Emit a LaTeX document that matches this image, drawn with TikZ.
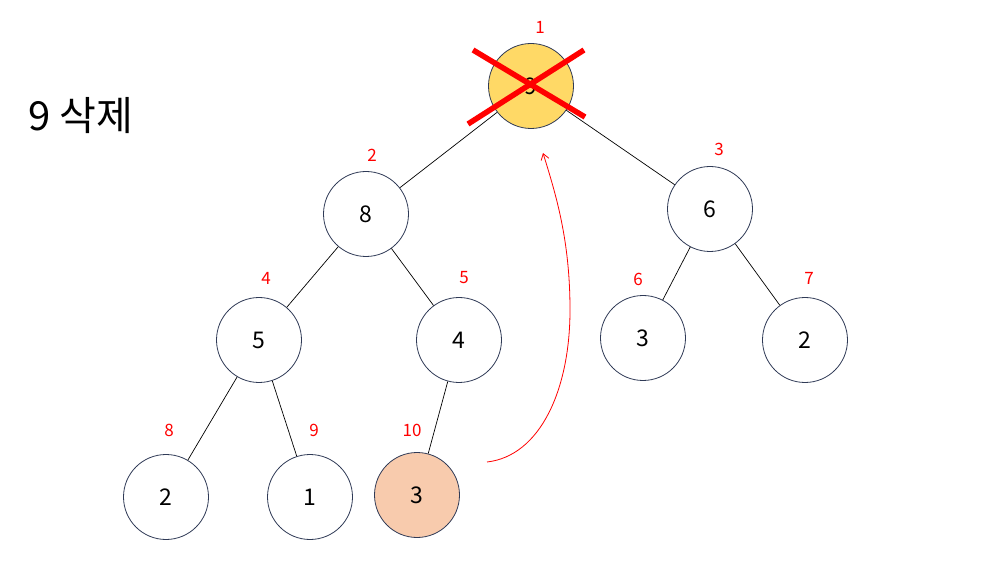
\documentclass[tikz,border=0pt]{standalone}
\usepackage{fontspec}
\setmainfont{Noto Sans CJK KR}
\usetikzlibrary{arrows.meta}
\definecolor{rim}{RGB}{47,58,86}
\definecolor{gold}{RGB}{255,217,102}
\definecolor{peach}{RGB}{248,203,173}
\definecolor{lred}{RGB}{255,0,0}
\tikzset{
  hnode/.style={circle,draw=rim,line width=0.8pt,fill=white,minimum size=85pt,inner sep=0pt,font=\fontsize{23}{26}\selectfont},
  idx/.style={text=lred,font=\fontsize{17}{20}\selectfont,inner sep=0pt},
  edge/.style={draw=black,line width=0.7pt}
}
\begin{document}
\begin{tikzpicture}[x=1pt,y=-1pt]
\useasboundingbox (0,0) rectangle (983,577);
% nodes
\node[hnode,fill=gold] (r) at (531,86) {9};
\node[hnode] (n8) at (366,214) {8};
\node[hnode] (n6) at (710,209) {6};
\node[hnode] (n5) at (259,340) {5};
\node[hnode] (n4) at (459,340) {4};
\node[hnode] (n3a) at (643,338) {3};
\node[hnode] (n2a) at (805,340) {2};
\node[hnode] (n2b) at (166,497) {2};
\node[hnode] (n1) at (310,497) {1};
\node[hnode,fill=peach] (n3b) at (417,495) {3};
% edges
\draw[edge] (r) -- (n8);
\draw[edge] (r) -- (n6);
\draw[edge] (n8) -- (n5);
\draw[edge] (n8) -- (n4);
\draw[edge] (n6) -- (n3a);
\draw[edge] (n6) -- (n2a);
\draw[edge] (n5) -- (n2b);
\draw[edge] (n5) -- (n1);
\draw[edge] (n4) -- (n3b);
% index labels
\node[idx] (i1) at (540,27) {1};
\node[idx] (i2) at (372,155) {2};
\node[idx] (i3) at (719,149) {3};
\node[idx] (i4) at (266,278) {4};
\node[idx] (i5) at (464,278) {5};
\node[idx] (i6) at (638,279) {6};
\node[idx] (i7) at (809,278) {7};
\node[idx] (i8) at (169,430) {8};
\node[idx] (i9) at (314,430) {9};
\node[idx] (i10) at (412,430) {10};
% cross
\coordinate (c1) at (473,50);
\coordinate (c2) at (585,117);
\coordinate (c3) at (584,50);
\coordinate (c4) at (468,124);
\draw[lred,line width=5.5pt] (c1) -- (c2);
\draw[lred,line width=5.5pt] (c3) -- (c4);
% arrow
\coordinate (a0) at (487,462);
\coordinate (am) at (570,310);
\coordinate (a1) at (543,153);
\draw[lred,line width=0.8pt,-{Straight Barb[length=6pt,width=8pt]}] (a0) .. controls (540,456) and (570,390) .. (am) .. controls (570,240) and (556,195) .. (a1);
% title
\node[anchor=west,inner sep=0pt,font=\fontsize{40}{46}\selectfont] (title) at (28,116) {9 삭제};
\end{tikzpicture}
\end{document}
